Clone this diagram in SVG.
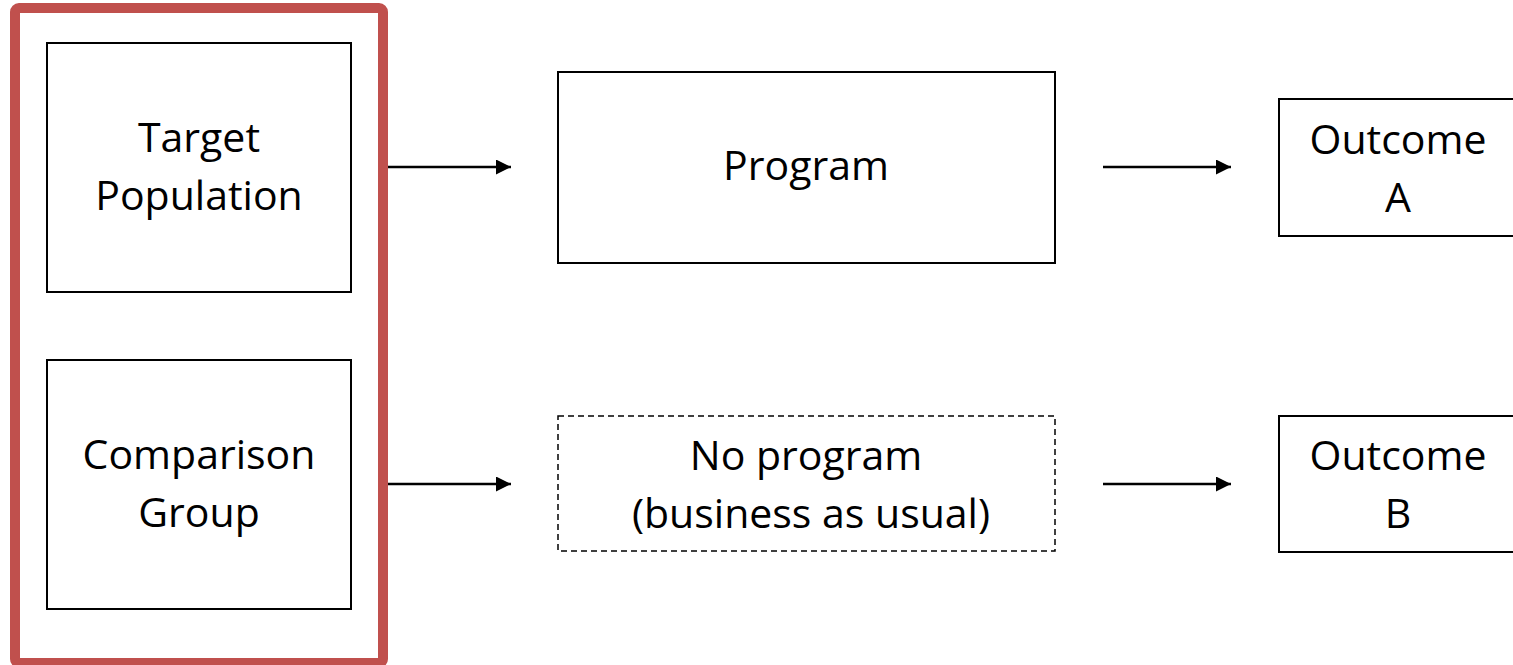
<svg xmlns="http://www.w3.org/2000/svg" width="1513" height="665" viewBox="0 0 1513 665">
<style>
.box{fill:#fff;stroke:#000;stroke-width:2}
.dash{fill:#fff;stroke:#000;stroke-width:1.5;stroke-dasharray:6 4}
.t{font-family:"Open Sans","Liberation Sans",sans-serif;font-size:41px;fill:#000;text-anchor:middle}
.conn{stroke:#000;stroke-width:2.5;fill:none}
</style>
<defs>
<marker id="ah" viewBox="0 0 10 10" refX="10" refY="5" markerWidth="6" markerHeight="6" markerUnits="strokeWidth" orient="auto">
<path d="M0,0 L10,5 L0,10 Z" fill="#000"/>
</marker>
</defs>
<rect x="0" y="0" width="1513" height="665" fill="#fff"/>
<g id="group-frame">
<rect x="15" y="8" width="368" height="655" rx="4" fill="none" stroke="#c0504d" stroke-width="10"/>
</g>
<g id="target-population">
<rect class="box" x="47" y="43" width="304" height="249"/>
<text class="t" x="199" y="152">Target</text>
<text class="t" x="199" y="210">Population</text>
</g>
<g id="comparison-group">
<rect class="box" x="47" y="360" width="304" height="249"/>
<text class="t" x="199" y="469">Comparison</text>
<text class="t" x="199" y="527">Group</text>
</g>
<g id="program">
<rect class="box" x="558" y="72" width="497" height="191"/>
<text class="t" x="806" y="180">Program</text>
</g>
<g id="no-program">
<rect class="dash" x="558" y="416" width="497" height="135"/>
<text class="t" x="806" y="470">No program</text>
<text class="t" x="811" y="528">(business as usual)</text>
</g>
<g id="outcome-a">
<rect class="box" x="1279" y="99" width="240" height="137"/>
<text class="t" x="1398" y="154">Outcome</text>
<text class="t" x="1398" y="212">A</text>
</g>
<g id="outcome-b">
<rect class="box" x="1279" y="416" width="240" height="136"/>
<text class="t" x="1398" y="470">Outcome</text>
<text class="t" x="1398" y="528">B</text>
</g>
<g id="connectors">
<line class="conn" x1="388" y1="167" x2="511" y2="167" marker-end="url(#ah)"/>
<line class="conn" x1="1103" y1="167" x2="1231" y2="167" marker-end="url(#ah)"/>
<line class="conn" x1="388" y1="484" x2="511" y2="484" marker-end="url(#ah)"/>
<line class="conn" x1="1103" y1="484" x2="1231" y2="484" marker-end="url(#ah)"/>
</g>
</svg>
